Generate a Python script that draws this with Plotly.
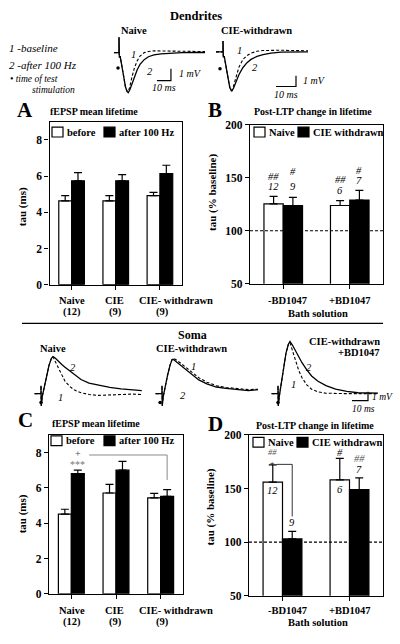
import plotly.graph_objects as go

W, H = 400, 644
SERIF = "Liberation Serif"

# ---------------- bar chart data ----------------
groups_AC = ["Naive", "CIE", "CIE- withdrawn"]
ns_AC = ["(12)", "(9)", "(9)"]
groups_BD = ["-BD1047", "+BD1047"]

A_before = [4.63, 4.63, 4.92]
A_before_err = [0.29, 0.29, 0.18]
A_after = [5.74, 5.74, 6.14]
A_after_err = [0.45, 0.34, 0.46]

B_naive = [125.3, 123.8]
B_naive_err = [7.1, 4.6]
B_cie = [123.8, 129.0]
B_cie_err = [7.7, 9.0]

C_before = [4.51, 5.71, 5.43]
C_before_err = [0.28, 0.49, 0.26]
C_after = [6.81, 7.00, 5.52]
C_after_err = [0.19, 0.50, 0.38]

D_naive = [156.0, 158.0]
D_naive_err = [16.0, 20.0]
D_cie = [103.0, 149.0]
D_cie_err = [7.0, 11.0]

# ---------------- example traces (ms, mV) ----------------
dn_t = [-3.5, 0, 0, 0.2, 0.8, 2, 3.3, 4.6, 5.7, 6.6, 7.6, 9, 11, 13, 15, 18, 21, 25, 30, 38, 45, 55, 63]
dn_post = [0, 0, 1.3, -0.4, -0.3, -1.0, -2.0, -2.9, -3.3, -3.4, -3.2, -2.75, -2.05, -1.45, -1.0, -0.6, -0.35, -0.2, -0.1, -0.03, 0, 0.02, 0.01]
dn_base = [0, 0, 1.3, -0.4, -0.3, -1.0, -2.0, -2.9, -3.25, -3.3, -2.95, -2.2, -1.3, -0.7, -0.3, 0.0, 0.1, 0.15, 0.15, 0.12, 0.1, 0.1, 0.08]

dc_t = [-3.5, 0, 0, 0.15, 0.6, 1.5, 2.5, 3.4, 4.3, 5.2, 6.5, 8, 10, 12, 14, 17, 20, 24, 29, 34, 38, 42.5]
dc_post = [0, 0, 1.0, -0.5, -0.4, -1.2, -2.4, -3.3, -3.66, -3.4, -2.8, -2.1, -1.45, -1.0, -0.7, -0.42, -0.25, -0.12, -0.03, 0, 0.02, 0]
dc_base = [0, 0, 1.0, -0.5, -0.4, -1.2, -2.4, -3.3, -3.6, -3.2, -2.3, -1.4, -0.7, -0.35, -0.12, 0.05, 0.12, 0.15, 0.15, 0.12, 0.12, 0.1]

sn_t = [-4, 0, 0, 0.15, 0.8, 2, 3.5, 5, 6.5, 7.5, 9, 11, 13, 15, 18, 21, 25, 30, 36, 43, 50, 57, 63]
sn_post = [0, 0, 0.9, -1.4, -0.3, 0.8, 2.0, 3.2, 4.0, 4.2, 4.0, 3.6, 3.3, 3.0, 2.6, 2.1, 1.6, 1.2, 0.95, 0.7, 0.55, 0.45, 0.35]
sn_base = [0, 0, 0.9, -1.4, -0.3, 0.8, 2.0, 3.2, 4.0, 4.15, 3.6, 2.8, 2.0, 1.4, 0.8, 0.4, 0.1, -0.1, -0.2, -0.15, -0.1, -0.05, -0.1]

sc_t = [-4, 0, 0, 0.15, 0.8, 2, 3.5, 5, 6.2, 7, 9, 12, 15, 19, 23, 28, 34, 40, 47, 54, 60]
sc_post = [0, 0, 0.9, -1.4, -0.3, 0.9, 2.1, 3.2, 3.8, 3.9, 3.6, 3.15, 2.7, 2.1, 1.55, 1.1, 0.75, 0.6, 0.5, 0.35, 0.45]
sc_base = [0, 0, 0.9, -1.4, -0.3, 0.9, 2.1, 3.2, 3.85, 4.0, 3.8, 3.4, 2.95, 2.35, 1.8, 1.3, 0.9, 0.7, 0.55, 0.45, 0.5]

sb_t = [-4, 0, 0, 0.15, 0.8, 2, 3.5, 5, 6.5, 7.5, 9, 11, 13, 15, 18, 21, 25, 30, 36, 43, 50, 57, 62.5]
sb_post = [0, 0, 0.9, -1.4, -0.3, 1.0, 2.8, 4.6, 5.6, 5.9, 5.5, 4.8, 4.1, 3.5, 2.7, 2.0, 1.4, 0.9, 0.5, 0.25, 0.1, 0.1, 0.05]
sb_base = [0, 0, 0.9, -1.4, -0.3, 1.0, 2.8, 4.6, 5.6, 5.8, 4.9, 3.6, 2.6, 1.8, 1.0, 0.5, 0.2, 0.05, 0, 0, 0, 0, 0]


def px(x):
    return x / W


def py(y):
    return 1 - y / H


fig = go.Figure()
layout = dict(
    width=W, height=H, margin=dict(l=0, r=0, t=0, b=0),
    paper_bgcolor="white", plot_bgcolor="white", showlegend=False,
    barmode="group", bargap=0.42, bargroupgap=0,
    font=dict(family=SERIF, color="black"),
)
annotations = []
shapes = []

BARGAP = 0.42
OFF = (1 - BARGAP) / 4


def bar_axes(i, x0, x1, y0, y1, ncat, yrange, ytick):
    xs = "" if i == 1 else str(i)
    layout["xaxis" + xs] = dict(
        domain=[px(x0), px(x1)], range=[-0.5, ncat - 0.5], anchor="y" + xs,
        tickvals=list(range(ncat)), showticklabels=False, ticks="outside", ticklen=4,
        tickcolor="black", showline=True, linecolor="black", linewidth=1.3, mirror=True,
        showgrid=False, zeroline=False, fixedrange=True)
    layout["yaxis" + xs] = dict(
        domain=[py(y1), py(y0)], range=yrange, anchor="x" + xs, tickvals=ytick,
        ticktext=["<b>%g</b>" % v for v in ytick], ticks="outside", ticklen=4, tickcolor="black",
        tickfont=dict(family=SERIF, size=11.5, color="black"),
        showline=True, linecolor="black", linewidth=1.3, mirror=True,
        showgrid=False, zeroline=False, fixedrange=True)


def add_bars(i, vals, errs, fill):
    xs = "" if i == 1 else str(i)
    fig.add_trace(go.Bar(
        x=list(range(len(vals))), y=vals, xaxis="x" + xs, yaxis="y" + xs,
        marker=dict(color=fill, line=dict(color="black", width=1.2)),
        error_y=dict(type="data", symmetric=False, array=errs, arrayminus=[0] * len(errs),
                     color="black", thickness=1.2, width=4)))


bar_axes(1, 49.5, 182, 118, 284, 3, [0, 9], [0, 2, 4, 6, 8])
bar_axes(2, 250, 383, 121, 283, 2, [50, 200], [50, 100, 150, 200])
bar_axes(3, 49, 183, 437, 599, 3, [0, 9], [0, 2, 4, 6, 8])
bar_axes(4, 249, 383, 437, 601, 2, [50, 200], [50, 100, 150, 200])

add_bars(1, A_before, A_before_err, "white")
add_bars(1, A_after, A_after_err, "black")
add_bars(2, B_naive, B_naive_err, "white")
add_bars(2, B_cie, B_cie_err, "black")
add_bars(3, C_before, C_before_err, "white")
add_bars(3, C_after, C_after_err, "black")
add_bars(4, D_naive, D_naive_err, "white")
add_bars(4, D_cie, D_cie_err, "black")

# dashed baseline at 100 %
for i in (2, 4):
    shapes.append(dict(type="line", xref="x%d domain" % i, yref="y%d" % i, x0=0, x1=1, y0=100, y1=100,
                       line=dict(color="black", width=1.2, dash="3px,2px")))


def txt(x, y, s, size=10.5, bold=False, italic=False, xanchor="center", color="black", xref="paper", yref="paper", angle=0):
    if bold:
        s = "<b>%s</b>" % s
    if italic:
        s = "<i>%s</i>" % s
    if xref == "paper":
        x = px(x)
    if yref == "paper":
        y = py(y)
    annotations.append(dict(x=x, y=y, xref=xref, yref=yref, text=s, showarrow=False,
                            xanchor=xanchor, yanchor="middle", textangle=angle, borderpad=0,
                            font=dict(family=SERIF, size=size, color=color)))


def legend(y, items):
    for (x0, fill, label) in items:
        shapes.append(dict(type="rect", xref="paper", yref="paper", x0=px(x0), x1=px(x0 + 11),
                           y0=py(y + 5), y1=py(y - 5), fillcolor=fill, line=dict(color="black", width=1.2)))
        txt(x0 + 13.5, y, label, size=10.5, bold=True, xanchor="left")


legend(128.5, [(52, "white", "before"), (104, "black", "after 100 Hz")])
legend(128.5, [(254, "white", "Naive"), (298, "black", "CIE withdrawn")])
legend(443, [(51, "white", "before"), (104, "black", "after 100 Hz")])
legend(444.5, [(253, "white", "Naive"), (297, "black", "CIE withdrawn")])

# panel titles
txt(25, 106, "A", size=21, bold=True)
txt(94, 108, "fEPSP mean lifetime", size=10, bold=True)
txt(215, 106, "B", size=21, bold=True)
txt(313, 108, "Post-LTP change in lifetime", size=10, bold=True)
txt(25, 422, "C", size=21, bold=True)
txt(96, 425.5, "fEPSP mean lifetime", size=10, bold=True)
txt(215, 426, "D", size=21, bold=True)
txt(315, 427, "Post-LTP change in lifetime", size=10, bold=True)

# y titles
txt(22, 205, "tau (ms)", size=11, bold=True, angle=-90)
txt(212.5, 190, "tau (% baseline)", size=11, bold=True, angle=-90)
txt(22, 518, "tau (ms)", size=11, bold=True, angle=-90)
txt(210, 511, "tau (% baseline)", size=11, bold=True, angle=-90)

# x category labels
cat_x_AC = [72, 114.5, 176]
n_x_AC = [72, 116, 162]
for yy1, yy2 in ((300, 312), (616, 628)):
    for k in range(3):
        txt(cat_x_AC[k], yy1, groups_AC[k], size=10.5, bold=True)
        txt(n_x_AC[k], yy2, ns_AC[k], size=10.5, bold=True)
cat_x_BD = [287, 350]
for yy1, yy2 in ((300, 313.5), (616, 628.5)):
    for k in range(2):
        txt(cat_x_BD[k], yy1, groups_BD[k], size=10.5, bold=True)
    txt(318, yy2, "Bath solution", size=10.5, bold=True)

# significance marks B
for (x, y, s) in [(-OFF, 151, "##"), (-OFF, 141.5, "12"), (OFF, 156, "#"), (OFF, 141.5, "9"),
                  (1 - OFF, 148.5, "##"), (1 - OFF, 138, "6"), (1 + OFF, 157, "#"), (1 + OFF, 147, "7")]:
    txt(x, y, s, size=10.5, italic=True, xref="x2", yref="y2")
# C marks
txt(OFF, 7.95, "+", size=10, xref="x3", yref="y3", color="#444")
txt(OFF, 7.3, "***", size=10, xref="x3", yref="y3", color="#777")
shapes.append(dict(type="path", xref="x3", yref="y3",
                   path="M 0.40 7.86 L %f 7.86 L %f 6.45" % (2 + OFF, 2 + OFF),
                   line=dict(color="#888", width=1)))
# D marks
txt(-OFF, 178.5, '<i><span style="color:#555">##</span></i><br>+', size=8.5, xref="x4", yref="y4")
for (x, y, s, c) in [(-OFF, 148.5, "12", "black"), (OFF, 118, "9", "black"),
                     (1 - OFF, 183.5, "#", "black"), (1 - OFF, 149.5, "6", "black"),
                     (1 + OFF, 177.5, "##", "#555"), (1 + OFF, 168, "7", "black")]:
    txt(x, y, s, size=10.5, italic=True, xref="x4", yref="y4", color=c)
shapes.append(dict(type="path", xref="x4", yref="y4",
                   path="M -0.09 172.5 L %f 172.5 L %f 124" % (OFF, OFF),
                   line=dict(color="black", width=0.8)))

# separator line
shapes.append(dict(type="line", xref="paper", yref="paper", x0=px(22), x1=px(383), y0=py(323.3), y1=py(323.3),
                   line=dict(color="black", width=1.2)))

# ---------------- trace panels ----------------


def trace_axes(i, box, origin, scale):
    bx0, bx1, by0, by1 = box
    ox, oy = origin
    sx, sy = scale
    layout["xaxis%d" % i] = dict(domain=[px(bx0), px(bx1)], range=[(bx0 - ox) / sx, (bx1 - ox) / sx],
                                 anchor="y%d" % i, visible=False, fixedrange=True)
    layout["yaxis%d" % i] = dict(domain=[py(by1), py(by0)], range=[(oy - by1) / sy, (oy - by0) / sy],
                                 anchor="x%d" % i, visible=False, fixedrange=True)


def add_wave(i, t, base, post, dot):
    fig.add_trace(go.Scatter(x=t, y=base, mode="lines", xaxis="x%d" % i, yaxis="y%d" % i,
                             line=dict(color="black", width=1.1, dash="3px,2px")))
    fig.add_trace(go.Scatter(x=t, y=post, mode="lines", xaxis="x%d" % i, yaxis="y%d" % i,
                             line=dict(color="black", width=1.3)))
    fig.add_trace(go.Scatter(x=[dot[0]], y=[dot[1]], mode="markers", xaxis="x%d" % i, yaxis="y%d" % i,
                             marker=dict(color="black", size=3.5)))


def scalebar(i, t0, t1, v0, v1):
    fig.add_trace(go.Scatter(x=[t0, t1, t1], y=[v0, v0, v1], mode="lines", xaxis="x%d" % i, yaxis="y%d" % i,
                             line=dict(color="black", width=1.2)))


trace_axes(5, (100, 215, 20, 100), (119, 47.5), (1.4, 12))
trace_axes(6, (205, 330, 20, 100), (223, 46.7), (2.0, 11))
trace_axes(7, (25, 150, 330, 415), (41, 395), (1.6, 9))
trace_axes(8, (145, 265, 330, 415), (162, 395), (1.6, 9))
trace_axes(9, (265, 398, 330, 420), (278, 395), (1.6, 9))

add_wave(5, dn_t, dn_base, dn_post, (-0.7, -1.3))
add_wave(6, dc_t, dc_base, dc_post, (-1.5, -1.57))
add_wave(7, sn_t, sn_base, sn_post, (0, -1.0))
add_wave(8, sc_t, sc_base, sc_post, (-1.2, -1.0))
add_wave(9, sb_t, sb_base, sb_post, (0, -1.0))

scalebar(5, 27.1, 37.1, -2.375, -1.375)
scalebar(6, 26.5, 36.5, -3.21, -2.21)
scalebar(9, 46.25, 56.25, -0.78, 0.22)

# trace numbers
for (i, t, v, s) in [(5, 10.7, -0.2, "1"), (5, 22, -1.6, "2"), (6, 8.5, 0.1, "1"), (6, 16, -1.45, "2"),
                     (7, 20, 3.0, "2"), (7, 12, -0.4, "1"), (8, 19.5, 3.1, "1"), (8, 13, -0.2, "2"),
                     (9, 19.4, 3.0, "2"), (9, 9.6, 1.0, "1")]:
    txt(t, v, s, size=10.5, italic=True, xref="x%d" % i, yref="y%d" % i)

# scale bar labels
txt(178, 69, "1 mV", size=10, italic=True, xanchor="left")
txt(164, 83.5, "10 ms", size=10, italic=True)
txt(302, 76, "1 mV", size=10, italic=True, xanchor="left")
txt(286, 90, "10 ms", size=10, italic=True)
txt(371, 398, "1 mV", size=9.5, italic=True, xanchor="left")
txt(363, 411, "10 ms", size=9.5, italic=True)

# headings for traces
txt(196, 10, "Dendrites", size=12.5, bold=True)
txt(133.5, 25, "Naive", size=10.5, bold=True)
txt(256, 25, "CIE-withdrawn", size=10.5, bold=True)
txt(192, 335, "Soma", size=12, bold=True)
txt(53, 349, "Naive", size=10.5, bold=True)
txt(191, 349, "CIE-withdrawn", size=10.5, bold=True)
txt(381, 342, "CIE-withdrawn", size=10.5, bold=True, xanchor="right")
txt(381, 353, "+BD1047", size=10.5, bold=True, xanchor="right")

# key
txt(8, 43, "1 -baseline", size=11, italic=True, xanchor="left")
txt(8, 60, "2 -after 100 Hz", size=11, italic=True, xanchor="left")
txt(9, 74, "\u2022 time of test", size=9.5, italic=True, xanchor="left")
txt(31, 86, "stimulation", size=9.5, italic=True, xanchor="left")

layout["annotations"] = annotations
layout["shapes"] = shapes
fig.update_layout(**layout)
fig.write_html("out.html", config={"displayModeBar": False},
               post_script="document.body.style.margin='0px';document.body.style.overflow='hidden';")
